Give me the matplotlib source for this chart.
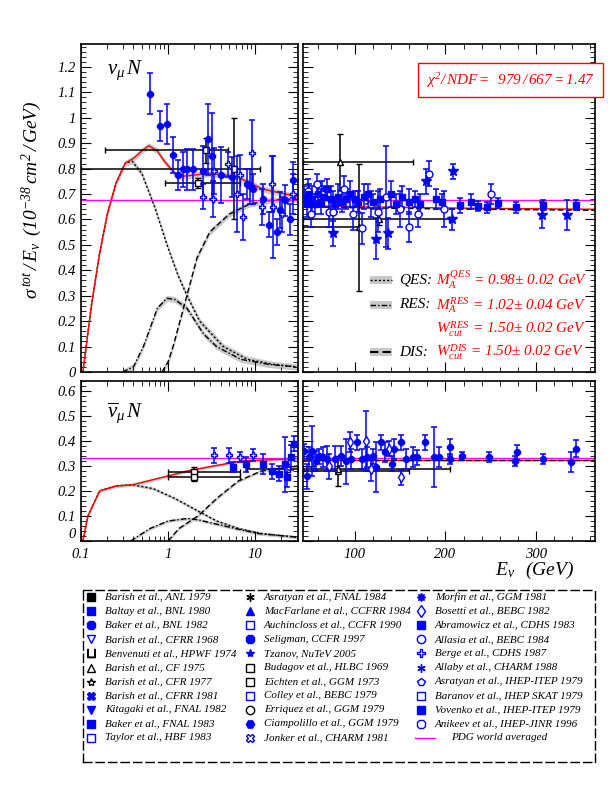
import numpy as np
import matplotlib
matplotlib.use("Agg")
import matplotlib.pyplot as plt
from matplotlib.ticker import FuncFormatter, MultipleLocator

FONT = "Liberation Serif"
plt.rcParams["font.family"] = FONT
plt.rcParams["font.style"] = "italic"
plt.rcParams["mathtext.fontset"] = "custom"
plt.rcParams["mathtext.it"] = "Liberation Serif:italic"
plt.rcParams["mathtext.rm"] = "Liberation Serif:italic"

# ---------------- model curves (knots) ----------------
nu_tot_E = [0.105, 0.13, 0.16, 0.2, 0.25, 0.32, 0.4, 0.5, 0.6, 0.75, 0.9, 1.2, 1.5, 2.0, 3.0, 6.0, 12.0, 30.0]
nu_tot_y = [0.0, 0.25, 0.45, 0.62, 0.74, 0.82, 0.84, 0.87, 0.89, 0.87, 0.83, 0.78, 0.77, 0.775, 0.78, 0.77, 0.72, 0.69]
nu_qes_E = [0.105, 0.13, 0.16, 0.2, 0.25, 0.32, 0.385, 0.5, 0.7, 0.97, 1.3, 1.65, 2.3, 4.3, 8.1, 16.0, 30.0]
nu_qes_y = [0.0, 0.25, 0.45, 0.62, 0.74, 0.82, 0.83, 0.78, 0.65, 0.5, 0.38, 0.3, 0.2, 0.1, 0.05, 0.03, 0.02]
nu_res_E = [0.3, 0.4, 0.52, 0.75, 0.97, 1.2, 1.65, 2.55, 3.6, 6.8, 14.0, 30.0]
nu_res_y = [0.0, 0.02, 0.1, 0.25, 0.29, 0.285, 0.25, 0.15, 0.1, 0.05, 0.03, 0.02]
nu_dis_E = [0.85, 1.0, 1.14, 1.5, 2.15, 3.0, 5.0, 8.5, 15.0, 30.0]
nu_dis_y = [0.0, 0.04, 0.1, 0.25, 0.45, 0.55, 0.62, 0.66, 0.675, 0.68]
nu_hi_E = [30.0, 100.0, 200.0, 365.0]
nu_hi_y = [0.655, 0.65, 0.645, 0.64]

an_tot_E = [0.105, 0.12, 0.163, 0.25, 0.39, 1.0, 1.65, 3.3, 7.1, 31.0]
an_tot_y = [0.0, 0.1, 0.2, 0.22, 0.225, 0.26, 0.28, 0.30, 0.32, 0.33]
an_qes_E = [0.105, 0.12, 0.163, 0.25, 0.39, 0.67, 1.2, 2.2, 3.6, 6.4, 11.7, 31.0]
an_qes_y = [0.0, 0.1, 0.2, 0.22, 0.225, 0.21, 0.17, 0.12, 0.08, 0.05, 0.03, 0.015]
an_res_E = [0.37, 0.62, 1.0, 1.65, 2.2, 4.4, 10.6, 31.0]
an_res_y = [0.0, 0.05, 0.08, 0.09, 0.085, 0.06, 0.03, 0.015]
an_dis_E = [1.0, 1.33, 2.2, 3.6, 6.4, 11.7, 31.0]
an_dis_y = [0.0, 0.05, 0.1, 0.17, 0.24, 0.28, 0.30]
an_hi_E = [30.0, 365.0]
an_hi_y = [0.326, 0.326]

pdg_nu = 0.677
pdg_an = 0.334

# ---------------- data points ----------------
nuL_fc_E = [0.62, 0.81, 0.97, 1.14, 1.30, 1.48, 1.65, 1.94, 2.5, 2.9, 3.2, 4.0, 5.4, 8.0, 8.7, 9.5, 12.3, 14.5, 17.9, 19.4, 22.0, 25.0, 27.0]
nuL_fc_y = [1.095, 0.967, 0.975, 0.853, 0.774, 0.797, 0.797, 0.797, 0.79, 0.915, 0.85, 0.775, 0.767, 0.74, 0.73, 0.72, 0.68, 0.58, 0.55, 0.636, 0.675, 0.60, 0.755]
nuL_fc_err = [0.08, 0.06, 0.08, 0.07, 0.06, 0.07, 0.08, 0.08, 0.10, 0.14, 0.17, 0.11, 0.08, 0.06, 0.07, 0.06, 0.06, 0.05, 0.05, 0.07, 0.06, 0.06, 0.07]
nuL_op_E = [2.5, 3.3, 3.4, 4.9, 6.2, 6.7, 7.3, 9.2, 12.0, 15.7, 16.0, 20.5, 27.0]
nuL_op_y = [0.69, 0.68, 0.79, 0.817, 0.70, 0.775, 0.61, 0.86, 0.65, 0.74, 0.65, 0.62, 0.70]
nuL_op_err = [0.05, 0.07, 0.09, 0.05, 0.15, 0.08, 0.09, 0.13, 0.07, 0.11, 0.2, 0.07, 0.08]
nuL_bk_E = [2.7, 2.2, 5.7]
nuL_bk_y = [0.872, 0.744, 0.80]
nuL_bk_err = [0.05, 0.02, 0.2]
nuL_bk_lo = [0.19, 0.92, 0.1]
nuL_bk_hi = [4.9, 6.7, 11.5]

nuH_fc_E = [44, 47, 50, 53, 56, 60, 63, 66, 70, 74, 78, 82, 86, 90, 95, 100, 104, 110, 115, 120, 128, 140, 146, 152, 160, 166, 172, 190, 196, 216, 228, 236, 246, 258, 278, 308, 344]
nuH_fc_y = [0.69, 0.66, 0.70, 0.68, 0.66, 0.70, 0.67, 0.69, 0.72, 0.68, 0.66, 0.69, 0.67, 0.68, 0.70, 0.68, 0.67, 0.69, 0.70, 0.67, 0.68, 0.70, 0.66, 0.69, 0.67, 0.68, 0.66, 0.68, 0.67, 0.656, 0.67, 0.652, 0.647, 0.665, 0.647, 0.656, 0.656]
nuH_fc_err = [0.04, 0.05, 0.04, 0.05, 0.04, 0.03, 0.05, 0.04, 0.04, 0.05, 0.03, 0.05, 0.04, 0.04, 0.05, 0.03, 0.04, 0.05, 0.04, 0.03, 0.04, 0.05, 0.04, 0.04, 0.05, 0.03, 0.04, 0.04, 0.03, 0.03, 0.03, 0.02, 0.02, 0.02, 0.02, 0.02, 0.02]
nuH_op_E = [48, 52, 58, 64, 72, 76, 88, 98, 108, 118, 126, 135, 150, 160, 170, 182, 198, 250]
nuH_op_y = [0.71, 0.62, 0.74, 0.70, 0.63, 0.63, 0.72, 0.62, 0.565, 0.66, 0.63, 0.69, 0.64, 0.57, 0.62, 0.78, 0.64, 0.70]
nuH_op_err = [0.05, 0.05, 0.04, 0.05, 0.06, 0.08, 0.05, 0.06, 0.06, 0.05, 0.08, 0.2, 0.07, 0.06, 0.05, 0.05, 0.07, 0.04]
nuH_st_E = [76, 124, 137, 179, 207, 208, 307, 334]
nuH_st_y = [0.545, 0.525, 0.545, 0.75, 0.60, 0.79, 0.617, 0.617]
nuH_st_err = [0.05, 0.08, 0.06, 0.05, 0.04, 0.03, 0.05, 0.06]
nuH_bk_E = [84, 127, 105]
nuH_bk_y = [0.827, 0.60, 0.57]
nuH_bk_err = [0.11, 0.02, 0.25]
nuH_bk_lo = [43, 43, 43]
nuH_bk_hi = [164, 204, 105]

anL_fc_E = [5.6, 7.9, 12.3, 15.7, 18.8, 22.0, 23.0, 26.0, 28.0]
anL_fc_y = [0.295, 0.308, 0.308, 0.28, 0.27, 0.308, 0.255, 0.335, 0.39]
anL_fc_err = [0.02, 0.03, 0.04, 0.03, 0.03, 0.11, 0.04, 0.05, 0.03]
anL_op_E = [3.4, 5.0, 6.7, 9.4]
anL_op_y = [0.344, 0.344, 0.335, 0.344]
anL_op_err = [0.03, 0.03, 0.02, 0.025]
anL_bk_E = [2.0, 2.0, 23.0]
anL_bk_y = [0.277, 0.255, 0.29]
anL_bk_err = [0.02, 0.015, 0.02]
anL_bk_lo = [1.0, 1.0, 8.0]
anL_bk_hi = [6.7, 6.7, 31.0]

anH_fc_E = [44, 47, 49.5, 53.4, 57, 61, 65.6, 70, 77.8, 85, 90, 96, 102, 108, 114, 120, 124, 128.5, 133, 141, 143, 151, 157, 164, 169, 177, 188, 193, 205.5, 205.5, 218, 248, 277, 279, 308, 338, 344]
anH_fc_y = [0.36, 0.26, 0.335, 0.36, 0.32, 0.34, 0.335, 0.33, 0.33, 0.34, 0.32, 0.33, 0.395, 0.33, 0.335, 0.34, 0.295, 0.395, 0.355, 0.31, 0.37, 0.395, 0.33, 0.335, 0.335, 0.395, 0.335, 0.335, 0.375, 0.328, 0.34, 0.335, 0.32, 0.355, 0.328, 0.315, 0.37]
anH_fc_err = [0.03, 0.05, 0.04, 0.1, 0.04, 0.03, 0.04, 0.05, 0.05, 0.04, 0.09, 0.04, 0.03, 0.04, 0.04, 0.03, 0.1, 0.03, 0.04, 0.03, 0.04, 0.03, 0.04, 0.04, 0.03, 0.03, 0.12, 0.04, 0.035, 0.02, 0.015, 0.02, 0.02, 0.03, 0.02, 0.04, 0.035]
anH_op_E = [55, 72, 95, 112, 118, 138, 151]
anH_op_y = [0.32, 0.30, 0.395, 0.40, 0.29, 0.37, 0.255]
anH_op_err = [0.04, 0.05, 0.04, 0.12, 0.05, 0.03, 0.03]
anH_bk_E = [82, 82]
anH_bk_y = [0.28, 0.29]
anH_bk_err = [0.06, 0.01]
anH_bk_lo = [43, 43]
anH_bk_hi = [160, 205]

legend_labels = [
    "Barish et al., ANL 1979", "Baltay et al., BNL 1980", "Baker et al., BNL 1982", "Barish et al., CFRR 1968",
    "Benvenuti et al., HPWF 1974", "Barish et al., CF 1975", "Barish et al., CFR 1977", "Barish et al., CFRR 1981",
    "Kitagaki et al., FNAL 1982", "Baker et al., FNAL 1983", "Taylor et al., HBF 1983",
    "Asratyan et al., FNAL 1984", "MacFarlane et al., CCFRR 1984", "Auchincloss et al., CCFR 1990", "Seligman, CCFR 1997",
    "Tzanov, NuTeV 2005", "Budagov et al., HLBC 1969", "Eichten et al., GGM 1973", "Colley et al., BEBC 1979",
    "Erriquez et al., GGM 1979", "Ciampolillo et al., GGM 1979", "Jonker et al., CHARM 1981",
    "Morfin et al., GGM 1981", "Bosetti et al., BEBC 1982", "Abramowicz et al., CDHS 1983", "Allasia et al., BEBC 1984",
    "Berge et al., CDHS 1987", "Allaby et al., CHARM 1988", "Asratyan et al., IHEP-ITEP 1979", "Baranov et al., IHEP SKAT 1979",
    "Vovenko et al., IHEP-ITEP 1979", "Anikeev et al., IHEP-JINR 1996",
]

# ---------------- figure ----------------
W, H = 612, 792
fig = plt.figure(figsize=(W / 100, H / 100), dpi=100)

def ax_px(x0, x1, y0, y1):
    return fig.add_axes([x0 / W, 1 - y1 / H, (x1 - x0) / W, (y1 - y0) / H])

axUL = ax_px(81, 298, 44, 372)
axUR = ax_px(303, 595, 44, 372)
axLL = ax_px(81, 298, 381, 541)
axLR = ax_px(303, 595, 381, 541)

BLUE = "#0000ff"

def curve(ax, E, y, style, lw=1.0, band=0.0, color="black", log=True):
    E = np.asarray(E, float); y = np.asarray(y, float)
    if log:
        xs = np.logspace(np.log10(E[0]), np.log10(E[-1]), 300)
        ys = np.interp(np.log10(xs), np.log10(E), y)
    else:
        xs = np.linspace(E[0], E[-1], 300)
        ys = np.interp(xs, E, y)
    if band > 0:
        ax.fill_between(xs, ys - band, ys + band, color="#c8c8c8", lw=0, zorder=1)
    ax.plot(xs, ys, ls=style, color=color, lw=lw, zorder=2)

def pts(ax, E, y, err, marker, mfc, color=BLUE, ms=5):
    ax.errorbar(E, y, yerr=err, fmt=marker, color=color, mfc=mfc, mec=color,
                ms=ms, elinewidth=1.1, capsize=2.5, capthick=1.1, zorder=4)

def bins(ax, E, y, err, lo, hi, marker):
    E = np.asarray(E); lo = np.asarray(lo); hi = np.asarray(hi)
    ax.errorbar(E, y, yerr=err, xerr=[E - lo, hi - E], fmt=marker, color="black",
                mfc="white", mec="black", ms=5, elinewidth=1.1, capsize=2.5, zorder=3)

curve(axUL, nu_qes_E, nu_qes_y, (0, (1.5, 1.5)), band=0.012)
curve(axUL, nu_res_E, nu_res_y, (0, (4, 1.5, 1, 1.5)), band=0.012)
curve(axUL, nu_dis_E, nu_dis_y, (0, (4, 2)), band=0.012)
curve(axUL, nu_tot_E, nu_tot_y, "-", color="red", band=0.012)
axUL.axhline(pdg_nu, color="magenta", lw=1.0, zorder=2)
bins(axUL, nuL_bk_E, nuL_bk_y, nuL_bk_err, nuL_bk_lo, nuL_bk_hi, "s")
pts(axUL, nuL_op_E, nuL_op_y, nuL_op_err, "P", "white")
pts(axUL, nuL_fc_E, nuL_fc_y, nuL_fc_err, "8", BLUE)

curve(axUR, nu_hi_E, nu_hi_y, "-", color="red", log=False)
axUR.plot(nu_hi_E, np.array(nu_hi_y) - 0.004, ls=(0, (4, 2)), color="black", lw=1.0, zorder=2)
axUR.axhline(pdg_nu, color="magenta", lw=1.0, zorder=2)
bins(axUR, nuH_bk_E, nuH_bk_y, nuH_bk_err, nuH_bk_lo, nuH_bk_hi, "^")
pts(axUR, nuH_op_E, nuH_op_y, nuH_op_err, "o", "white")
pts(axUR, nuH_fc_E, nuH_fc_y, nuH_fc_err, "s", BLUE)
pts(axUR, nuH_st_E, nuH_st_y, nuH_st_err, "*", BLUE, ms=7)

curve(axLL, an_qes_E, an_qes_y, (0, (1.5, 1.5)), band=0.006)
curve(axLL, an_res_E, an_res_y, (0, (4, 1.5, 1, 1.5)), band=0.006)
curve(axLL, an_dis_E, an_dis_y, (0, (4, 2)), band=0.006)
curve(axLL, an_tot_E, an_tot_y, "-", color="red", band=0.006)
axLL.axhline(pdg_an, color="magenta", lw=1.0, zorder=2)
bins(axLL, anL_bk_E, anL_bk_y, anL_bk_err, anL_bk_lo, anL_bk_hi, "s")
pts(axLL, anL_op_E, anL_op_y, anL_op_err, "P", "white")
pts(axLL, anL_fc_E, anL_fc_y, anL_fc_err, "s", BLUE)

curve(axLR, an_hi_E, an_hi_y, "-", color="red", log=False)
axLR.plot(an_hi_E, np.array(an_hi_y) - 0.003, ls=(0, (4, 2)), color="black", lw=1.0, zorder=2)
axLR.axhline(pdg_an, color="magenta", lw=1.0, zorder=2)
bins(axLR, anH_bk_E, anH_bk_y, anH_bk_err, anH_bk_lo, anH_bk_hi, "^")
pts(axLR, anH_op_E, anH_op_y, anH_op_err, "d", "white")
pts(axLR, anH_fc_E, anH_fc_y, anH_fc_err, "8", BLUE)

for ax in (axUL, axLL):
    ax.set_xscale("log")
    ax.set_xlim(0.1, 31)
for ax in (axUR, axLR):
    ax.set_xlim(43, 365)
for ax in (axUL, axUR):
    ax.set_ylim(0, 1.29)
    ax.set_yticks(np.arange(0, 1.21, 0.1))
for ax in (axLL, axLR):
    ax.set_ylim(0, 0.64)
    ax.set_yticks(np.arange(0, 0.61, 0.1))
for ax in (axUL, axUR, axLL, axLR):
    ax.tick_params(which="both", direction="in", top=True, right=True, labelsize=10.5)
    ax.yaxis.set_minor_locator(MultipleLocator(0.02))
    ax.tick_params(which="major", length=7)
    ax.tick_params(which="minor", length=3.5)
    for s in ax.spines.values():
        s.set_linewidth(1.2)
for ax in (axUR, axLR):
    ax.xaxis.set_minor_locator(MultipleLocator(20))
    ax.set_xticks([100, 200, 300])
    ax.set_yticklabels([])
for ax in (axUL, axUR):
    ax.tick_params(axis="x", which="both", labelbottom=False)
axLR.set_xticklabels(["100", "200", "300"])
axLL.xaxis.set_major_formatter(FuncFormatter(lambda v, p: {0.1: "0.1", 1: "1", 10: "10"}.get(round(v, 3), "")))
axLL.tick_params(axis="x", pad=5)
axLR.tick_params(axis="x", pad=5)
axUL.set_yticklabels(["0", "0.1", "0.2", "0.3", "0.4", "0.5", "0.6", "0.7", "0.8", "0.9", "1", "1.1", "1.2"])
axLL.set_yticklabels(["0", "0.1", "0.2", "0.3", "0.4", "0.5", "0.6"])
axLL.get_yticklabels()[0].set_va("bottom")

axUL.text(0.12, 0.92, r"$\nu_\mu\,N$", transform=axUL.transAxes, fontsize=15, va="center")
axLL.text(0.12, 0.80, r"$\overline{\nu}_\mu\,N$", transform=axLL.transAxes, fontsize=15, va="center")
fig.text(32 / W, 1 - 200 / H, r"$\sigma^{\,tot}\,/\,E_\nu\;\;(10^{-38}\,cm^2\,/\,GeV)$",
         rotation=90, fontsize=14, ha="center", va="center")
fig.text(535 / W, 1 - 570 / H, r"$E_\nu\;\;\;(GeV)$", fontsize=14, ha="center", va="center")
axUR.text(0.71, 0.89, r"$\chi^2/\,NDF{=}\;\;979\,/\,667 = 1.47$", transform=axUR.transAxes,
          fontsize=11, color="red", ha="center", va="center",
          bbox=dict(boxstyle="square,pad=0.5", fc="white", ec="red", lw=1))

rows = [(0.28, (0, (1.5, 1.5)), "QES:", r"$M_A^{QES}$ = 0.98$\pm$ 0.02 GeV"),
        (0.205, (0, (4, 1.5, 1, 1.5)), "RES:", r"$M_A^{RES}$ = 1.02$\pm$ 0.04 GeV"),
        (0.13, None, "", r"$W_{cut}^{RES}$ = 1.50$\pm$ 0.02 GeV"),
        (0.06, (0, (4, 2)), "DIS:", r"$W_{cut}^{DIS}$ = 1.50$\pm$ 0.02 GeV")]
for yy, ls, lab, txt in rows:
    if ls is not None:
        axUR.add_patch(plt.Rectangle((0.23, yy - 0.012), 0.075, 0.024, transform=axUR.transAxes,
                                     fc="#c8c8c8", ec="none"))
        axUR.plot([0.23, 0.305], [yy, yy], transform=axUR.transAxes, ls=ls, color="black",
                  lw=1.5 if lab == "DIS:" else 1.0)
        axUR.text(0.33, yy, lab, transform=axUR.transAxes, fontsize=11, va="center")
    axUR.text(0.455, yy, txt, transform=axUR.transAxes, fontsize=11, va="center", color="red")

axG = ax_px(83, 595, 590, 762)
axG.set_xlim(83, 595); axG.set_ylim(762, 590)
axG.set_xticks([]); axG.set_yticks([])
for s in axG.spines.values():
    s.set_linestyle((0, (6, 3))); s.set_linewidth(1.0)
markers = [("s", "k", "k"), ("s", BLUE, BLUE), ("8", BLUE, BLUE), ("v", BLUE, "white"),
           ("$\\sqcup$", "k", "k"), ("^", "k", "white"), ("*", "k", "white"), ("X", BLUE, BLUE),
           ("v", BLUE, BLUE), ("s", BLUE, BLUE), ("s", BLUE, "white"),
           ((6, 2, 0), "k", "k"), ("^", BLUE, BLUE), ("s", BLUE, "white"), ("8", BLUE, BLUE),
           ("*", BLUE, BLUE), ("s", "k", "white"), ("s", "k", "white"), ("s", BLUE, "white"),
           ("o", "k", "white"), ("H", BLUE, BLUE), ("X", BLUE, "white"),
           ((8, 1, 0), BLUE, BLUE), ("d", BLUE, "white"), ("s", BLUE, BLUE), ("o", BLUE, "white"),
           ("P", BLUE, "white"), ((6, 2, 0), BLUE, BLUE), ("p", BLUE, "white"), ("s", BLUE, "white"),
           ("s", BLUE, BLUE), ("8", BLUE, "white")]
col_x = [91, 250, 421]
col_n = [11, 11, 10]
k = 0
for c in range(3):
    for r in range(col_n[c]):
        yy = 597 + r * 14.1
        m, ec, fc = markers[k]
        axG.plot([col_x[c]], [yy], marker=m, color=ec, mfc=fc, mec=ec, ms=6, ls="none")
        axG.text(col_x[c] + 14, yy, legend_labels[k], fontsize=8, va="center")
        k += 1
yy = 597 + 10 * 14.1
axG.plot([col_x[2] - 6, col_x[2] + 14], [yy, yy], color="magenta", lw=1)
axG.text(col_x[2] + 30, yy, "PDG world averaged", fontsize=8, va="center")

fig.savefig("out.png", dpi=100)
